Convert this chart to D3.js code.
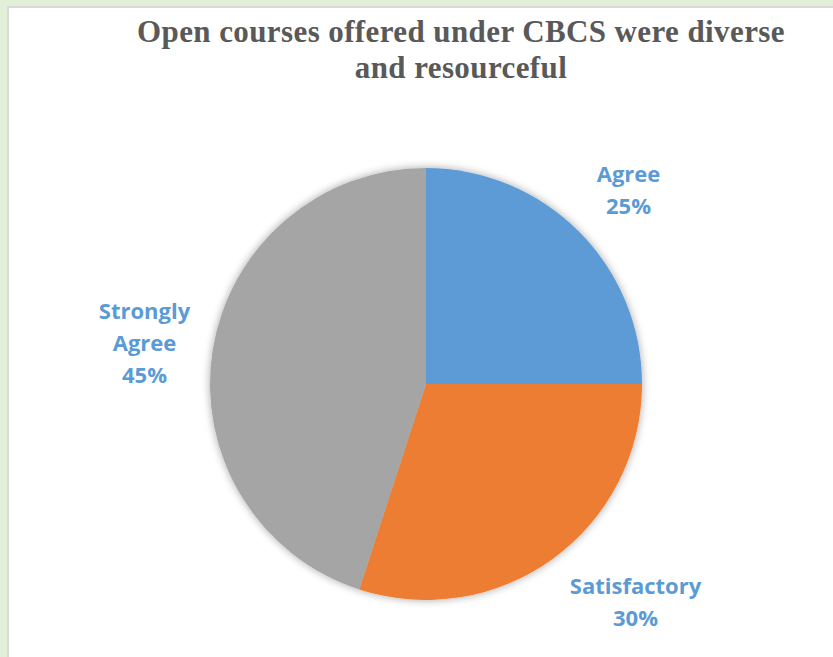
<!DOCTYPE html>
<html>
<head>
<meta charset="utf-8">
<script src="https://cdn.jsdelivr.net/npm/d3@7"></script>
<style>
  html, body { margin: 0; padding: 0; background: #e2efd9; }
  #chart { position: absolute; left: 7px; top: 6px; }
</style>
</head>
<body>
<div id="chart"></div>
<script>
// Data
//-----
var categories = ["Agree", "Satisfactory", "Strongly Agree"];
var shares = [25, 30, 45];
var colors = ["#5b9bd5", "#ed7d31", "#a5a5a5"];
var titleLines = ["Open courses offered under CBCS were diverse", "and resourceful"];

// Sizing
//-------
var svgWidth = 833 - 7;
var svgHeight = 657 - 6;
var cx = 426 - 7, cy = 384 - 6;
var radius = 216;

var svg = d3.select("#chart")
  .append("svg")
  .attr("width", svgWidth)
  .attr("height", svgHeight);

// white plot area with grey edge on top/left
svg.append("rect")
  .attr("x", 0).attr("y", 0)
  .attr("width", svgWidth).attr("height", svgHeight)
  .attr("fill", "#ffffff");
svg.append("path")
  .attr("d", `M1,${svgHeight} V1 H${svgWidth}`)
  .attr("fill", "none")
  .attr("stroke", "#d9d9d9")
  .attr("stroke-width", 2);

// soft shadow
var defs = svg.append("defs");
var f = defs.append("filter").attr("id", "shadow")
  .attr("x", "-20%").attr("y", "-20%").attr("width", "140%").attr("height", "140%");
f.append("feGaussianBlur").attr("in", "SourceAlpha").attr("stdDeviation", 4);
f.append("feOffset").attr("dx", 0).attr("dy", 0).attr("result", "blur");
f.append("feComponentTransfer").append("feFuncA").attr("type", "linear").attr("slope", 0.35);
var merge = f.append("feMerge");
merge.append("feMergeNode");
merge.append("feMergeNode").attr("in", "SourceGraphic");

// Title
var title = svg.append("text")
  .attr("text-anchor", "middle")
  .attr("font-family", "'Liberation Serif', 'Times New Roman', serif")
  .attr("font-weight", "bold")
  .attr("font-size", 31)
  .attr("letter-spacing", 0.4)
  .attr("fill", "#595959");
titleLines.forEach(function(t, i) {
  title.append("tspan")
    .attr("x", 461 - 7)
    .attr("y", 42 - 6 + i * 36)
    .text(t);
});

// Pie
var pie = d3.pie().sort(null).value(d => d.value);
var arcs = pie(categories.map((c, i) => ({ name: c, value: shares[i], color: colors[i] })));
var arc = d3.arc().innerRadius(0).outerRadius(radius);

var g = svg.append("g")
  .attr("transform", `translate(${cx}, ${cy})`);

g.append("g")
  .attr("filter", "url(#shadow)")
  .selectAll("path")
  .data(arcs)
  .enter()
  .append("path")
  .attr("d", arc)
  .attr("fill", d => d.data.color);

// Labels (outside end, nudged like the original layout)
var labelArc = d3.arc().innerRadius(285).outerRadius(285);
var nudge = { "Agree": [1, 8], "Satisfactory": [42, -12], "Strongly Agree": [0, 4] };

var labels = g.append("g")
  .selectAll("text")
  .data(arcs)
  .enter()
  .append("text")
  .attr("text-anchor", "middle")
  .attr("font-family", "'Open Sans', Lato, sans-serif")
  .attr("font-weight", "bold")
  .attr("font-size", 22)
  .attr("fill", "#5b9bd5");

labels.each(function(d) {
  var c = labelArc.centroid(d);
  var n = nudge[d.data.name];
  var x = c[0] + n[0], y = c[1] + n[1];
  var words = d.data.name === "Strongly Agree" ? ["Strongly", "Agree"] : [d.data.name];
  words.push(d.data.value + "%");
  var lh = 32;
  var top = y - (words.length - 1) * lh / 2;
  var t = d3.select(this);
  words.forEach(function(w, i) {
    t.append("tspan")
      .attr("x", x)
      .attr("y", top + i * lh)
      .attr("dy", "0.35em")
      .text(w);
  });
});
</script>
</body>
</html>
